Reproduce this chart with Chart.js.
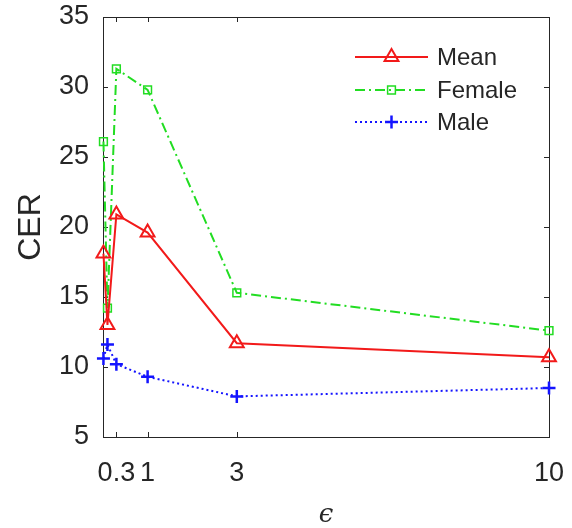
<!DOCTYPE html>
<html>
<head>
<meta charset="utf-8">
<script src="https://cdn.jsdelivr.net/npm/chart.js@4"></script>
<style>
body { margin: 0; background: #fff; }
</style>
</head>
<body>
<canvas id="graficaCER" width="572" height="528"></canvas>
<script>
const epsilons = [0.01, 0.1, 0.3, 1, 3, 10];
const meanCER = [18.1, 13.0, 20.9, 19.6, 11.7, 10.7];
const femaleCER = [26.1, 14.2, 31.3, 29.8, 15.3, 12.6];
const maleCER = [10.6, 11.6, 10.2, 9.3, 7.9, 8.5];
const xTicks = [0.3, 1, 3, 10];
const yTicks = [5, 10, 15, 20, 25, 30, 35];
const seriesNames = ['Mean', 'Female', 'Male'];

const axisColor = '#262626';
const fontFamily = '"Liberation Sans", Arial, sans-serif';

function toPoints(values) {
    return epsilons.map((x, i) => ({ x: x, y: values[i] }));
}

// caja y marcas hacia dentro, estilo MATLAB
const boxPlugin = {
    id: 'boxPlugin',
    beforeDatasetsDraw(chart) {
        const { ctx, chartArea: a, scales } = chart;
        ctx.save();
        ctx.strokeStyle = axisColor;
        ctx.lineWidth = 1;
        ctx.strokeRect(a.left + 0.5, a.top + 0.5, a.right - a.left, a.bottom - a.top);
        ctx.beginPath();
        xTicks.forEach(v => {
            const px = Math.round(scales.x.getPixelForValue(v)) + 0.5;
            ctx.moveTo(px, a.bottom); ctx.lineTo(px, a.bottom - 5);
            ctx.moveTo(px, a.top); ctx.lineTo(px, a.top + 5);
        });
        yTicks.forEach(v => {
            const py = Math.round(scales.y.getPixelForValue(v)) + 0.5;
            ctx.moveTo(a.left, py); ctx.lineTo(a.left + 5, py);
            ctx.moveTo(a.right, py); ctx.lineTo(a.right - 5, py);
        });
        ctx.stroke();
        ctx.restore();
    }
};

// leyenda con línea y marcador en medio
const legendPlugin = {
    id: 'legendPlugin',
    afterDraw(chart) {
        const ctx = chart.ctx;
        const x0 = 355, x1 = 428, rows = [57, 90, 122];
        chart.data.datasets.forEach((ds, i) => {
            const y = rows[i];
            ctx.save();
            ctx.strokeStyle = ds.borderColor;
            ctx.lineWidth = ds.borderWidth;
            ctx.setLineDash(ds.borderDash || []);
            ctx.beginPath();
            ctx.moveTo(x0, y); ctx.lineTo(x1, y);
            ctx.stroke();
            ctx.setLineDash([]);
            ctx.strokeStyle = ds.pointBorderColor;
            ctx.fillStyle = 'rgba(0,0,0,0)';
            ctx.lineWidth = ds.pointBorderWidth;
            Chart.helpers.drawPoint(ctx, {
                pointStyle: ds.pointStyle, radius: ds.pointRadius, rotation: 0, borderWidth: ds.pointBorderWidth
            }, (x0 + x1) / 2, y);
            ctx.fillStyle = axisColor;
            ctx.font = '24px ' + fontFamily;
            ctx.textBaseline = 'middle';
            ctx.textAlign = 'left';
            ctx.fillText(ds.label, 437, y + 1);
            ctx.restore();
        });
    }
};

new Chart(document.getElementById('graficaCER').getContext('2d'), {
    type: 'scatter',
    data: {
        datasets: [{
            label: seriesNames[0],
            data: toPoints(meanCER),
            showLine: true,
            borderColor: '#f21a1a',
            borderWidth: 2,
            pointStyle: 'triangle',
            pointRadius: 8,
            pointBorderColor: '#f21a1a',
            pointBackgroundColor: 'rgba(0,0,0,0)',
            pointBorderWidth: 2,
            clip: false
        }, {
            label: seriesNames[1],
            data: toPoints(femaleCER),
            showLine: true,
            borderColor: '#22dd22',
            borderWidth: 2,
            borderDash: [10, 4, 2, 4],
            pointStyle: 'rect',
            pointRadius: 5.5,
            pointBorderColor: '#22dd22',
            pointBackgroundColor: 'rgba(0,0,0,0)',
            pointBorderWidth: 1.5,
            clip: false
        }, {
            label: seriesNames[2],
            data: toPoints(maleCER),
            showLine: true,
            borderColor: '#1414ff',
            borderWidth: 2,
            borderDash: [2, 3],
            pointStyle: 'cross',
            pointRadius: 6.5,
            pointBorderColor: '#1414ff',
            pointBorderWidth: 2.5,
            clip: false
        }]
    },
    options: {
        responsive: false,
        animation: false,
        layout: { padding: { left: 0, right: 23, top: 17, bottom: 0 } },
        plugins: {
            legend: { display: false },
            tooltip: { enabled: false }
        },
        scales: {
            x: {
                type: 'linear',
                min: 0,
                max: 10,
                afterBuildTicks: scale => { scale.ticks = xTicks.map(v => ({ value: v })); },
                afterFit: scale => {
                    scale.height = 91;
                    scale.paddingLeft = 0;
                    scale.paddingRight = 0;
                },
                grid: { display: false },
                border: { display: false },
                ticks: {
                    autoSkip: false,
                    maxRotation: 0,
                    padding: 12,
                    color: axisColor,
                    font: { size: 27, family: fontFamily }
                },
                title: {
                    display: true,
                    text: 'ϵ',
                    color: axisColor,
                    padding: { top: 0, bottom: 0 },
                    font: { size: 26, family: '"DejaVu Serif", serif', style: 'italic', lineHeight: 1 }
                }
            },
            y: {
                min: 5,
                max: 35,
                afterBuildTicks: scale => { scale.ticks = yTicks.map(v => ({ value: v })); },
                afterFit: scale => {
                    scale.width = 103;
                    scale.paddingTop = 0;
                    scale.paddingBottom = 0;
                },
                grid: { display: false },
                border: { display: false },
                ticks: {
                    padding: 6,
                    color: axisColor,
                    font: { size: 27, family: fontFamily }
                },
                title: {
                    display: true,
                    text: 'CER',
                    color: axisColor,
                    padding: { top: 15, bottom: 0 },
                    font: { size: 32, family: fontFamily, lineHeight: 1 }
                }
            }
        }
    },
    plugins: [boxPlugin, legendPlugin]
});
</script>
</body>
</html>
